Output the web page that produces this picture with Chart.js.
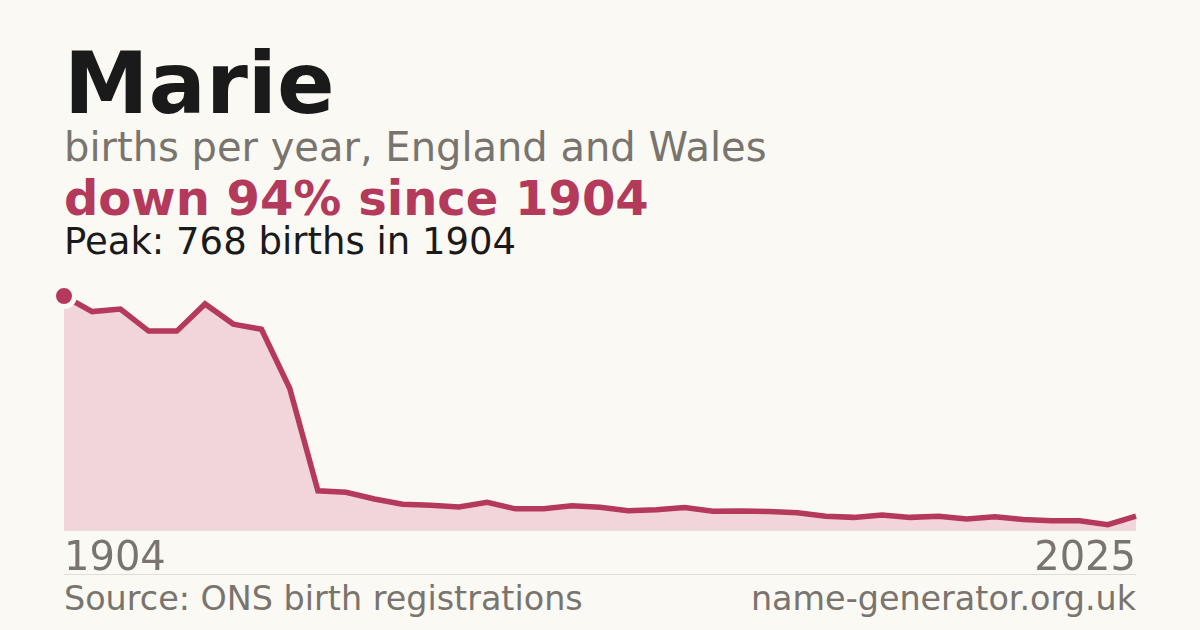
<!DOCTYPE html>
<html>
<head>
<meta charset="utf-8">
<script src="https://cdn.jsdelivr.net/npm/chart.js@4/dist/chart.umd.min.js"></script>
<style>
  html, body { margin: 0; padding: 0; }
  body {
    width: 1200px; height: 630px; overflow: hidden; position: relative;
    background: #faf9f4; font-family: "DejaVu Sans", sans-serif;
  }
  .t { position: absolute; left: 64px; line-height: 1; white-space: nowrap; }
  #name { top: 41.4px; font-size: 85px; font-weight: bold; color: #1a1a1a; }
  #sub { top: 126.7px; font-size: 40px; color: #79746d; }
  #change { top: 174.4px; font-size: 48px; font-weight: bold; color: #b33a5a; }
  #peak { top: 222.7px; font-size: 37px; color: #1a1a1a; }
  #births-chart { position: absolute; left: 0; top: 260px; display: block; }
  #baseline { position: absolute; left: 64px; width: 1072px; top: 530px; height: 1px; background: #e6e2da; }
  .year { position: absolute; top: 536.2px; font-size: 40px; line-height: 1; color: #79746d; }
  #y-first { left: 64px; }
  #y-last { right: 64px; }
  #rule { position: absolute; left: 64px; width: 1072px; top: 574px; height: 1px; background: #e0ddd5; }
  .foot { position: absolute; top: 581.7px; font-size: 33.4px; line-height: 1; color: #79746d; }
  #source { left: 64px; }
  #site { right: 64px; }
</style>
</head>
<body>
<div class="t" id="name">Marie</div>
<div class="t" id="sub">births per year, England and Wales</div>
<div class="t" id="change">down 94% since 1904</div>
<div class="t" id="peak">Peak: 768 births in 1904</div>
<div id="baseline"></div>
<canvas id="births-chart" width="1200" height="280"></canvas>
<div class="year" id="y-first"></div>
<div class="year" id="y-last"></div>
<div id="rule"></div>
<div class="foot" id="source">Source: ONS birth registrations</div>
<div class="foot" id="site">name-generator.org.uk</div>

<script>
// Years sampled along the x axis
const years = [
  1904, 1907, 1910, 1914, 1917, 1920, 1923, 1926, 1929, 1933,
  1936, 1939, 1942, 1945, 1948, 1952, 1955, 1958, 1961, 1964,
  1968, 1971, 1974, 1977, 1980, 1984, 1987, 1990, 1993, 1996,
  1999, 2003, 2006, 2009, 2012, 2015, 2018, 2022, 2025
];

// Births per year for Marie
const births = [
  768, 717, 725, 653, 653, 742, 676, 659, 466, 130,
  125, 103, 86, 83, 77, 92, 71, 71, 81, 76,
  65, 68, 75, 63, 64, 62, 58, 47, 43, 51,
  43, 47, 38, 45, 36, 32, 32, 19, 47
];

const lineColour = '#b5395b';
const fillColour = '#f2d5db';
const bgColour = '#faf9f4';

document.getElementById('y-first').textContent = years[0];
document.getElementById('y-last').textContent = years[years.length - 1];

const canvas = document.getElementById('births-chart');

const birthsChart = new Chart(canvas, {
  type: 'line',
  data: {
    labels: years,
    datasets: [{
      label: 'Births',
      data: births,
      borderColor: lineColour,
      borderWidth: 5.5,
      backgroundColor: fillColour,
      fill: 'origin',
      tension: 0,
      clip: false,
      // only the first (peak) point gets a marker
      pointRadius: (ctx) => ctx.dataIndex === 0 ? 10.5 : 0,
      pointBackgroundColor: lineColour,
      pointBorderColor: bgColour,
      pointBorderWidth: 5,
      pointHoverRadius: 0
    }]
  },
  options: {
    responsive: false,
    animation: false,
    layout: {
      autoPadding: false,
      padding: { left: 64, right: 64, top: 36, bottom: 9.5 }
    },
    scales: {
      x: { type: 'category', display: false, offset: false },
      y: { display: false, min: 0, max: 768 }
    },
    plugins: {
      legend: { display: false },
      tooltip: { enabled: false }
    }
  }
});
</script>
</body>
</html>
